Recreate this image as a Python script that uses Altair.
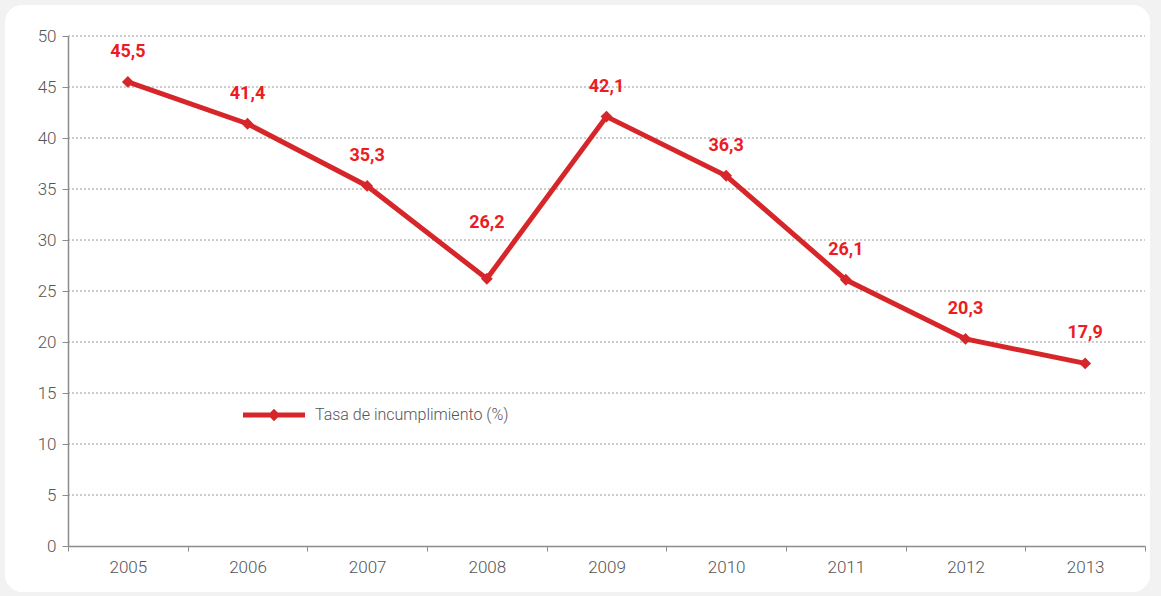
import altair as alt
import pandas as pd

years = ["2005", "2006", "2007", "2008", "2009", "2010", "2011", "2012", "2013"]
values = [45.5, 41.4, 35.3, 26.2, 42.1, 36.3, 26.1, 20.3, 17.9]
series = "Tasa de incumplimiento (%)"
grid_values = [5, 10, 15, 20, 25, 30, 35, 40, 45, 50]
y_ticks = [0, 5, 10, 15, 20, 25, 30, 35, 40, 45, 50]

df = pd.DataFrame({"year": years, "value": values, "serie": series})
gdf = pd.DataFrame({"value": grid_values})

RED = "#d7262a"
LABEL_RED = "#ec1c24"
GRAY = "#8c8c8c"
TXT = "#555555"

x = alt.X("year:N", title=None, sort=years,
          scale=alt.Scale(type="band", paddingInner=0, paddingOuter=0),
          axis=alt.Axis(labelAngle=0, tickBand="extent", domainColor=GRAY, tickColor=GRAY,
                        tickSize=5, labelPadding=8, labelFontSize=17, labelColor=TXT,
                        labelFont="Roboto", labelFontWeight=300, grid=False, domainWidth=1.5,
                        zindex=1))
y_scale = alt.Scale(domain=[0, 50], nice=False)
y_axis = alt.Axis(values=y_ticks, domainColor=GRAY, tickColor=GRAY,
                  tickSize=6, labelPadding=6, labelFontSize=17, labelColor=TXT,
                  labelFont="Roboto", labelFontWeight=300, grid=False,
                  domainWidth=1.5, zindex=1)
y = alt.Y("value:Q", title=None, scale=y_scale, axis=y_axis)

bg = alt.Chart(df).mark_rect(fill="white", cornerRadius=18).encode(
    x=alt.value(-63), x2=alt.value(1082), y=alt.value(-31), y2=alt.value(556)
)

grid = alt.Chart(gdf).mark_rule(color="#9a9a9a", strokeDash=[2, 2], strokeWidth=1).encode(
    y=y, x=alt.value(0), x2=alt.value(1077)
)

base = alt.Chart(df)

line = base.mark_line(color=RED, strokeWidth=5).encode(x=x, y=y)

legend_path = ("M-1,-0.08L1,-0.08L1,0.08L-1,0.08Z "
               "M-0.2,0L0,-0.2L0.2,0L0,0.2Z")

pts = base.mark_point(shape="diamond", filled=True, size=140, opacity=1).encode(
    x=x, y=y,
    color=alt.Color("serie:N", title=None,
                    scale=alt.Scale(domain=[series], range=[RED]),
                    legend=alt.Legend(orient="none", legendX=175, legendY=348,
                                      symbolType=legend_path, symbolSize=3844,
                                      symbolStrokeWidth=0, labelFontSize=16,
                                      labelColor=TXT, labelFont="Roboto",
                                      labelFontWeight=300, labelOffset=10, padding=0,
                                      labelLimit=400))
)

lab_expr = "replace(format(datum.value, '.1f'), '.', ',')"

labels = base.mark_text(dy=-30, fontSize=18, fontWeight="bold", font="Roboto",
                        color=LABEL_RED).transform_filter(
    "datum.year != '2008'"
).transform_calculate(lab=lab_expr).encode(x=x, y=y, text="lab:N")

labels_up = base.mark_text(dy=-56, fontSize=18, fontWeight="bold", font="Roboto",
                           color=LABEL_RED).transform_filter(
    "datum.year == '2008'"
).transform_calculate(lab=lab_expr).encode(x=x, y=y, text="lab:N")

chart = alt.layer(bg, grid, line, pts, labels, labels_up).properties(
    width=1077, height=510,
    padding={"left": 68, "top": 36, "right": 16, "bottom": 50},
    autosize=alt.AutoSizeParams(type="none"),
    background="#f2f2f2",
).configure_view(stroke=None)

chart.save("out.html", embed_options={"renderer": "svg", "actions": False})
